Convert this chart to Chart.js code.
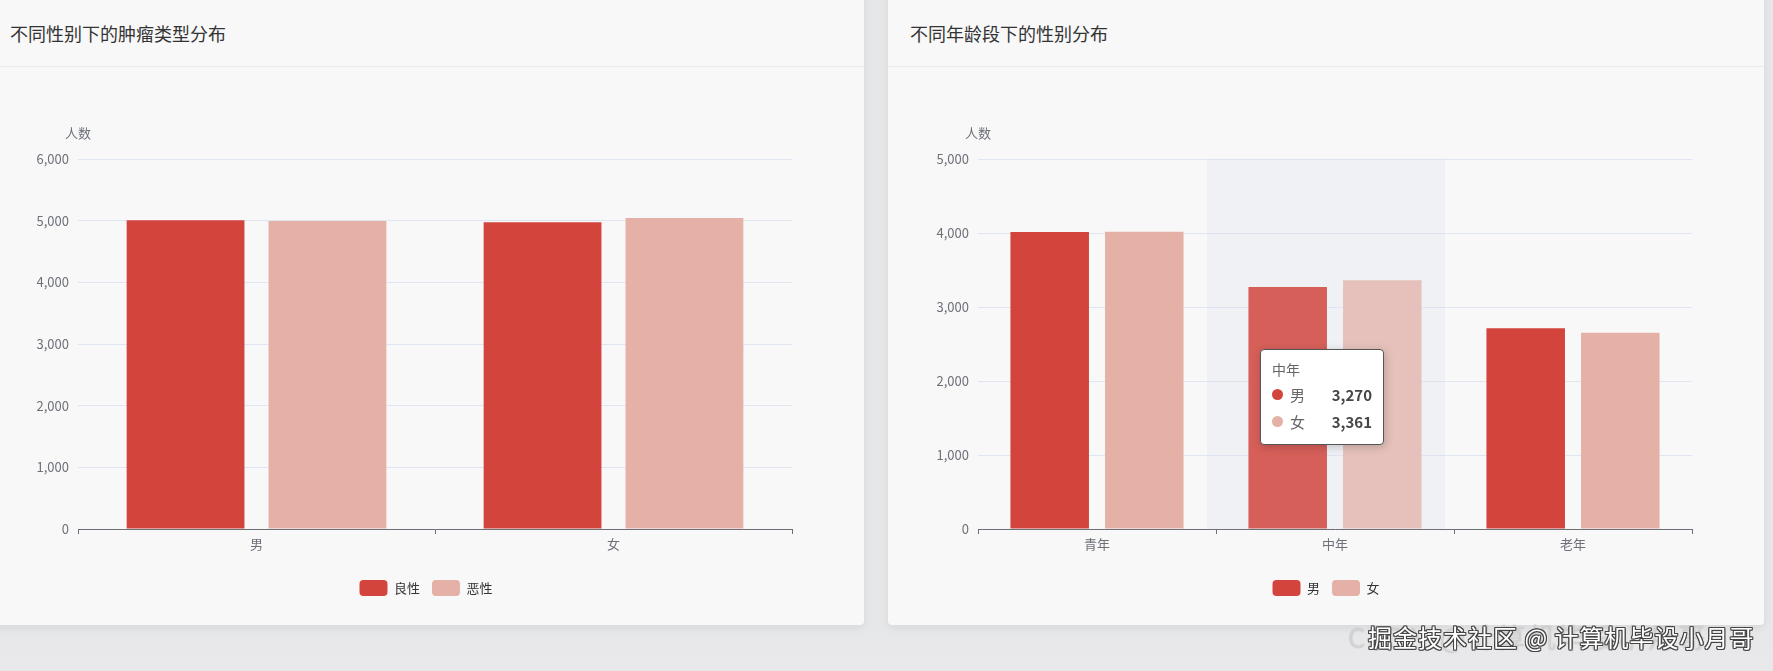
<!DOCTYPE html>
<html>
<head>
<meta charset="utf-8">
<script src="https://cdn.jsdelivr.net/npm/chart.js@4.4.1/dist/chart.umd.min.js"></script>
<style>
  html, body { margin: 0; padding: 0; }
  body {
    width: 1773px; height: 671px; overflow: hidden; position: relative;
    background: linear-gradient(#e6e7e9, #e6e7e9 620px, #e9e9eb 671px);
    font-family: "Noto Sans CJK SC", "Noto Sans", sans-serif;
  }
  .panel {
    position: absolute; top: -10px; width: 876px; height: 635px;
    background: #f8f8f8; border-radius: 4px;
    box-shadow: 0 3px 8px rgba(0, 0, 0, 0.07);
  }
  .panel .head {
    position: absolute; left: 0; top: 0; right: 0; height: 76px;
    border-bottom: 1px solid #ebebeb;
  }
  .panel h3 {
    position: absolute; left: 22px; top: 30px; margin: 0;
    font-size: 18px; line-height: 26px; font-weight: normal; color: #333;
  }
  .panel canvas { position: absolute; left: 0; top: 77px; }
  .tip {
    position: absolute; display: none; box-sizing: border-box;
    width: 124px; padding: 8px 11px 9px 11px;
    background: #fff; border: 1px solid #555; border-radius: 4px;
    box-shadow: 1px 2px 10px rgba(0, 0, 0, 0.2);
    font-size: 15px; color: #666; line-height: 27px;
  }
  .tip .t { font-size: 14px; line-height: 22px; margin-bottom: 1px; }
  .tip .row { display: flex; align-items: center; }
  .tip .dot { width: 11px; height: 11px; border-radius: 50%; margin-right: 7px; }
  .tip .val { margin-left: auto; font-weight: bold; color: #464646; }
  .mark {
    position: absolute; left: 1368px; top: 622px; font-size: 24px; line-height: 30px;
    color: #fff; white-space: nowrap; letter-spacing: 1px;
    text-shadow: 1px 1px 0 #444, -1px -1px 0 #444, 1px -1px 0 #444, -1px 1px 0 #444, 0 1px 0 #444, 1px 0 0 #444, 0 -1px 0 #444, -1px 0 0 #444;
  }
  .ghost {
    position: absolute; left: 1348px; top: 620px; font-size: 27px; line-height: 34px;
    color: rgba(255, 255, 255, 0.5); white-space: nowrap; letter-spacing: 3px;
    text-shadow: 0 0 1px rgba(90, 90, 90, 0.5);
  }
</style>
</head>
<body>
<div class="panel" style="left:-12px">
  <div class="head"><h3>不同性别下的肿瘤类型分布</h3></div>
  <canvas id="tumorChart" width="876" height="558"></canvas>
</div>
<div class="panel" style="left:888px" id="agePanel">
  <div class="head"><h3>不同年龄段下的性别分布</h3></div>
  <canvas id="ageChart" width="876" height="558"></canvas>
  <div class="tip" id="tip"></div>
</div>
<div class="ghost">CSDN @计算机毕设小月哥</div>
<div class="mark">掘金技术社区 @ 计算机毕设小月哥</div>
<script>
// 不同性别下的肿瘤类型分布
const genderLabels = ["男", "女"];
const benignCounts = [5005, 4975];
const malignantCounts = [4995, 5042];
const tumorTicks = [0, 1000, 2000, 3000, 4000, 5000, 6000];

// 不同年龄段下的性别分布
const ageLabels = ["青年", "中年", "老年"];
const maleCounts = [4012, 3270, 2712];
const femaleCounts = [4018, 3361, 2653];
const ageTicks = [0, 1000, 2000, 3000, 4000, 5000];

const dark = "#d3453c";
const light = "#e5b0a5";
const axisGray = "#6e7079";

Chart.defaults.font.family = '"Noto Sans CJK SC", "Noto Sans", sans-serif';
Chart.defaults.font.size = 13;

// "人数" above the value axis
const axisNamePlugin = {
  id: "axisName",
  afterDraw(chart) {
    const { ctx, chartArea } = chart;
    ctx.save();
    ctx.fillStyle = axisGray;
    ctx.font = '13px "Noto Sans CJK SC", sans-serif';
    ctx.textAlign = "center";
    ctx.textBaseline = "middle";
    ctx.fillText("人数", chartArea.left, chartArea.top - 26);
    ctx.restore();
  },
};

// shaded band behind the hovered category
const bandPlugin = {
  id: "band",
  beforeDatasetsDraw(chart, args, opts) {
    if (opts.index == null) return;
    const { ctx, chartArea, scales } = chart;
    const x = scales.x;
    const half = (x.getPixelForValue(1) - x.getPixelForValue(0)) / 2;
    const c = x.getPixelForValue(opts.index) + (opts.shift || 0);
    ctx.save();
    ctx.fillStyle = "rgba(219, 223, 235, 0.28)";
    ctx.fillRect(c - half, chartArea.top, half * 2, chartArea.bottom - chartArea.top);
    ctx.restore();
  },
};

Chart.Tooltip.positioners.cursor = function (elements, pos) {
  return pos;
};

function externalTip(context) {
  const { chart, tooltip } = context;
  const el = document.getElementById("tip");
  if (tooltip.opacity === 0) {
    el.style.display = "none";
    return;
  }
  let html = '<div class="t">' + tooltip.title[0] + "</div>";
  tooltip.dataPoints.forEach((dp, i) => {
    html += '<div class="row"><span class="dot" style="background:' +
      tooltip.labelColors[i].backgroundColor + '"></span><span>' +
      dp.dataset.label + '</span><span class="val">' + dp.formattedValue + "</span></div>";
  });
  el.innerHTML = html;
  el.style.display = "block";
  el.style.left = chart.canvas.offsetLeft + tooltip.caretX - 165 + "px";
  el.style.top = chart.canvas.offsetTop + tooltip.caretY - 1 + "px";
}

function buildOptions(ticks, extra) {
  return {
    responsive: false,
    animation: false,
    events: [],
    layout: { padding: { left: 0, right: 0, top: 92, bottom: 19 } },
    scales: {
      x: {
        grid: { offset: true, drawOnChartArea: false, tickLength: 5, color: axisGray },
        border: { color: axisGray, width: 1 },
        ticks: { color: axisGray, padding: 2, font: { size: 13 } },
        afterFit(scale) { scale.height = 39; },
      },
      y: {
        min: ticks[0],
        max: ticks[ticks.length - 1],
        afterBuildTicks(scale) { scale.ticks = ticks.map((v) => ({ value: v })); },
        grid: { color: "#e0e6f1", drawTicks: false },
        border: { display: false },
        ticks: { color: axisGray, padding: 9, font: { size: 13 } },
        afterFit(scale) { scale.width = 90; },
      },
      // empty right-hand gutter, keeps the legend centred on the panel
      gutter: {
        type: "linear",
        position: "right",
        grid: { display: false },
        border: { display: false },
        ticks: { display: false },
        afterFit(scale) { scale.width = 72; },
      },
    },
    plugins: Object.assign({
      legend: {
        position: "bottom",
        labels: {
          boxWidth: 28, boxHeight: 16, useBorderRadius: true, borderRadius: 4,
          padding: 12, color: "#333", font: { size: 13 },
        },
      },
      tooltip: { enabled: false },
    }, extra),
  };
}

new Chart(document.getElementById("tumorChart"), {
  type: "bar",
  data: {
    labels: genderLabels,
    datasets: [
      { label: "良性", data: benignCounts, backgroundColor: dark, borderWidth: 0,
        categoryPercentage: 0.795, barPercentage: 0.83 },
      { label: "恶性", data: malignantCounts, backgroundColor: light, borderWidth: 0,
        categoryPercentage: 0.795, barPercentage: 0.83 },
    ],
  },
  options: buildOptions(tumorTicks, {}),
  plugins: [axisNamePlugin],
});

const ageChart = new Chart(document.getElementById("ageChart"), {
  type: "bar",
  data: {
    labels: ageLabels,
    datasets: [
      { label: "男", data: maleCounts, backgroundColor: dark, hoverBackgroundColor: "#d65f59",
        borderWidth: 0, categoryPercentage: 0.795, barPercentage: 0.83 },
      { label: "女", data: femaleCounts, backgroundColor: light, hoverBackgroundColor: "#e6c1bb",
        borderWidth: 0, categoryPercentage: 0.795, barPercentage: 0.83 },
    ],
  },
  options: buildOptions(ageTicks, {
    band: { index: 1, shift: -9 },
    tooltip: {
      enabled: false,
      mode: "index",
      position: "cursor",
      animation: false,
      external: externalTip,
      callbacks: {
        labelColor(ctx) {
          const c = ctx.datasetIndex === 0 ? dark : light;
          return { backgroundColor: c, borderColor: c };
        },
      },
    },
  }),
  plugins: [axisNamePlugin, bandPlugin],
});

// hovered state: 中年
const hovered = [{ datasetIndex: 0, index: 1 }, { datasetIndex: 1, index: 1 }];
ageChart.setActiveElements(hovered);
ageChart.update();
ageChart.tooltip.setActiveElements(hovered, { x: 537, y: 283 });
</script>
</body>
</html>
